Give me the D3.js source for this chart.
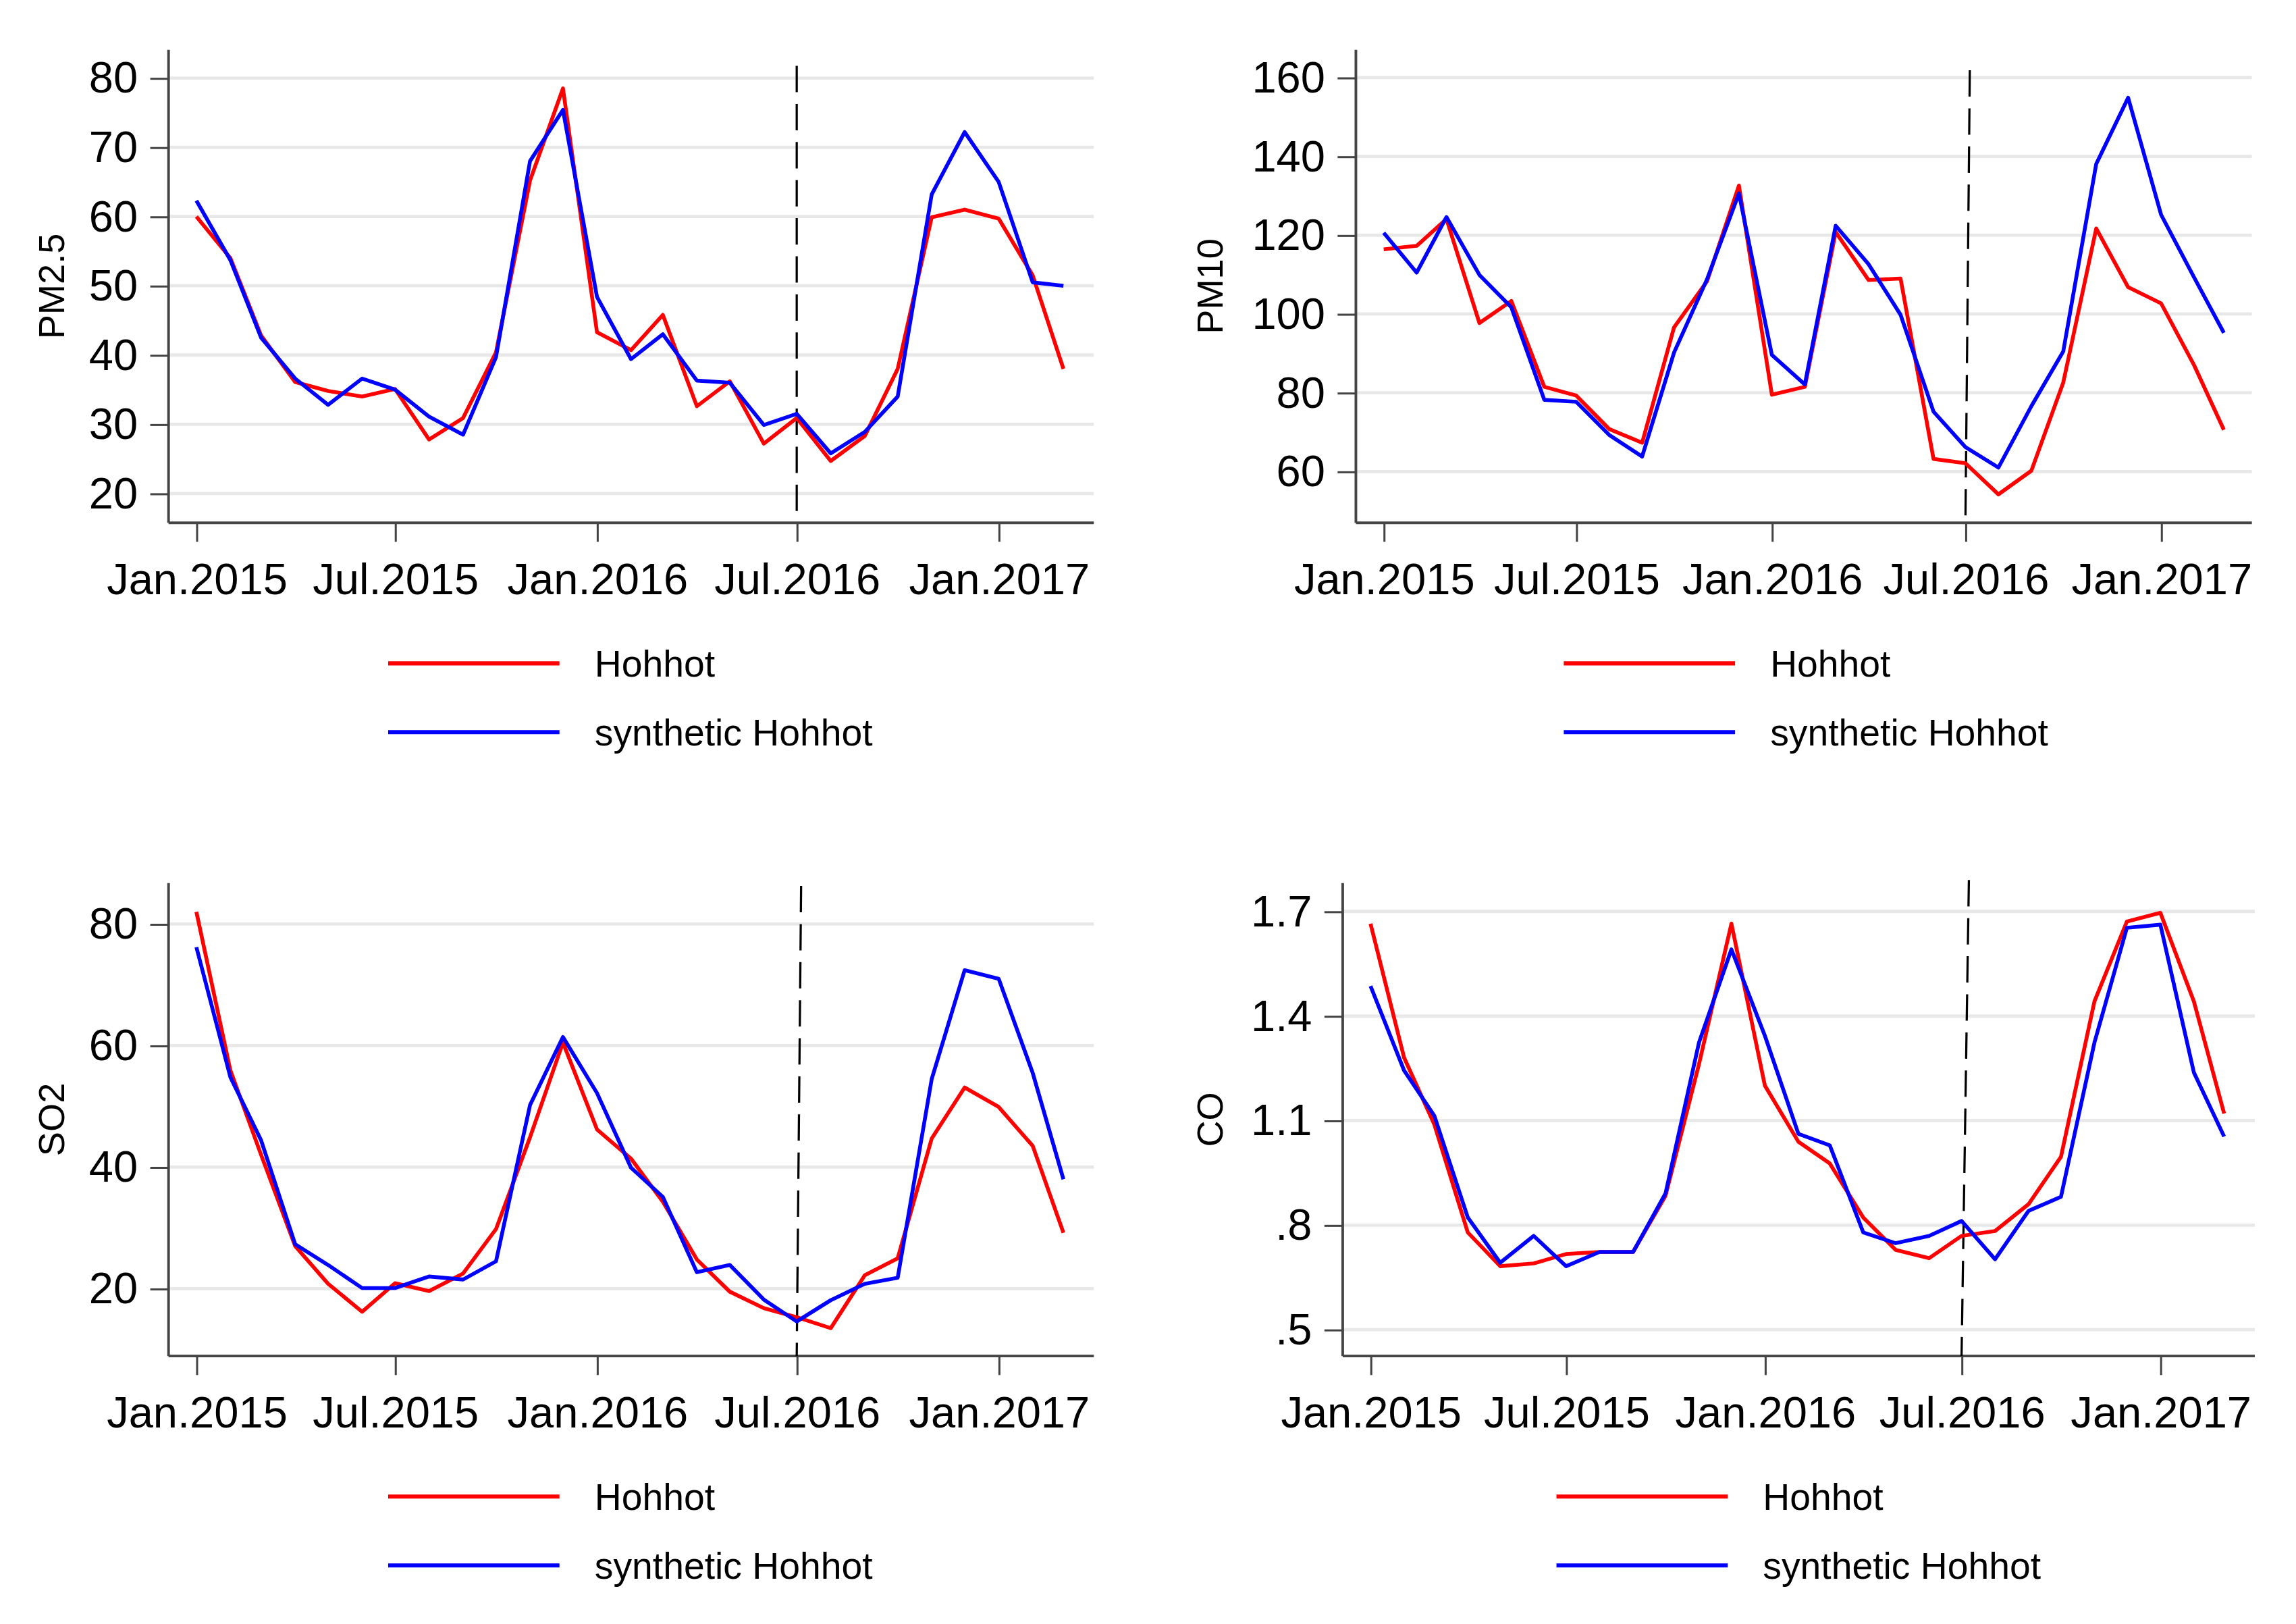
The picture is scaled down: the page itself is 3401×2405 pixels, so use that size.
<!DOCTYPE html>
<html>
<head>
<meta charset="utf-8">
<script src="https://cdn.jsdelivr.net/npm/d3@7"></script>
<style>
  html, body { margin: 0; padding: 0; background: #fff; }
  svg { display: block; }
  text { font-family: "Liberation Sans", Arial, sans-serif; fill: #000; }
</style>
</head>
<body>
<div id="chart"></div>
<script>
// Months Jan.2015 .. Mar.2017
const months = d3.timeMonth.range(new Date(2015, 0, 1), new Date(2017, 3, 1));
const xTickDates = [new Date(2015, 0, 1), new Date(2015, 6, 1), new Date(2016, 0, 1), new Date(2016, 6, 1), new Date(2017, 0, 1)];
const xTickLabels = ["Jan.2015", "Jul.2015", "Jan.2016", "Jul.2016", "Jan.2017"];
const treatDate = new Date(2016, 6, 1);
const seriesNames = ["Hohhot", "synthetic Hohhot"];

const pm25Hohhot = [60, 54, 42.8, 36.1, 34.8, 34.0, 35.1, 27.8, 30.9, 40.4, 65.2, 78.5, 43.3, 40.7, 45.8, 32.6, 36.2, 27.2, 30.9, 24.7, 28.3, 38.0, 59.9, 61.0, 59.7, 51.5, 38.0];
const pm25Synth = [62.3, 53.7, 42.5, 36.6, 32.8, 36.6, 35.0, 31.1, 28.5, 39.7, 68.0, 75.4, 48.4, 39.4, 43.0, 36.3, 36.0, 29.9, 31.5, 25.8, 28.9, 34.0, 63.2, 72.2, 65.0, 50.5, 50.0];
const pm25Ticks = [20, 30, 40, 50, 60, 70, 80];
const pm25TickLabels = ["20", "30", "40", "50", "60", "70", "80"];

const pm10Hohhot = [116.4, 117.3, 124.1, 97.7, 103.3, 81.5, 79.3, 70.8, 67.3, 96.6, 108.3, 132.6, 79.5, 81.5, 120.8, 108.6, 109.0, 63.2, 62.1, 54.2, 60.2, 82.6, 121.7, 106.8, 102.7, 87.0, 70.6];
const pm10Synth = [120.6, 110.5, 124.6, 109.9, 101.7, 78.2, 77.7, 69.3, 63.8, 90.2, 108.8, 130.6, 89.6, 82.1, 122.4, 112.6, 99.8, 75.2, 66.2, 61.0, 76.6, 90.5, 138.1, 154.9, 125.2, 109.3, 95.2];
const pm10Ticks = [60, 80, 100, 120, 140, 160];
const pm10TickLabels = ["60", "80", "100", "120", "140", "160"];

const so2Hohhot = [82.0, 55.9, 42.0, 27.0, 20.8, 16.2, 20.9, 19.6, 22.5, 29.8, 44.9, 60.5, 46.2, 41.4, 34.3, 24.8, 19.5, 16.8, 15.3, 13.5, 22.2, 25.0, 44.7, 53.1, 49.9, 43.5, 29.2];
const so2Synth = [76.2, 54.8, 44.4, 27.3, 23.9, 20.1, 20.1, 22.0, 21.5, 24.5, 50.2, 61.4, 52.2, 39.9, 35.1, 22.7, 23.9, 18.2, 14.6, 18.1, 20.8, 21.8, 54.5, 72.4, 71.0, 55.5, 38.0];
const so2Ticks = [20, 40, 60, 80];
const so2TickLabels = ["20", "40", "60", "80"];

const coHohhot = [1.665, 1.281, 1.089, 0.779, 0.682, 0.690, 0.717, 0.723, 0.723, 0.884, 1.262, 1.665, 1.200, 1.039, 0.977, 0.822, 0.729, 0.705, 0.769, 0.783, 0.860, 0.996, 1.442, 1.671, 1.696, 1.442, 1.120];
const coSynth = [1.486, 1.244, 1.114, 0.822, 0.692, 0.769, 0.682, 0.723, 0.723, 0.891, 1.324, 1.591, 1.343, 1.062, 1.029, 0.779, 0.748, 0.769, 0.812, 0.702, 0.841, 0.881, 1.324, 1.653, 1.662, 1.238, 1.054];
const coTicks = [0.5, 0.8, 1.1, 1.4, 1.7];
const coTickLabels = [".5", ".8", "1.1", "1.4", "1.7"];

// Layout (in a 1568 x 1109 view box, scaled to the window)
const W = 3401, H = 2405, VW = 1568, VH = 1109;
const panels = [
  { title: "PM2.5", red: pm25Hohhot, blue: pm25Synth, ticks: pm25Ticks, labels: pm25TickLabels,
    axisX: 115, right: 747, top: 34, bottom: 357, x0: 134, x1: 682, y0: 337, y1: 53.3, titleX: 35, legX: 265, legY: 453, lean: 0, dashTop: 45 },
  { title: "PM10", red: pm10Hohhot, blue: pm10Synth, ticks: pm10Ticks, labels: pm10TickLabels,
    axisX: 926, right: 1538, top: 34, bottom: 357, x0: 945, x1: 1476, y0: 322, y1: 53, titleX: 826, legX: 1068, legY: 453, lean: 3, dashTop: 48 },
  { title: "SO2", red: so2Hohhot, blue: so2Synth, ticks: so2Ticks, labels: so2TickLabels,
    axisX: 115, right: 747, top: 603, bottom: 926, x0: 134, x1: 682, y0: 880, y1: 631, titleX: 35, legX: 265, legY: 1022, lean: 3, dashTop: 605 },
  { title: "CO", red: coHohhot, blue: coSynth, ticks: coTicks, labels: coTickLabels,
    axisX: 917, right: 1540, top: 603, bottom: 926, x0: 936, x1: 1475.5, y0: 908, y1: 622.4, titleX: 826, legX: 1063, legY: 1022, lean: 5, dashTop: 601 }
];

const svg = d3.select("#chart").append("svg")
  .attr("width", W)
  .attr("height", H)
  .attr("viewBox", "0 0 " + VW + " " + VH);

svg.append("rect").attr("width", VW).attr("height", VH).attr("fill", "#fff");

panels.forEach(p => {
  const g = svg.append("g");
  const x = d3.scaleTime().domain([xTickDates[0], xTickDates[4]]).range([p.x0, p.x1]);
  const y = d3.scaleLinear().domain([p.ticks[0], p.ticks[p.ticks.length - 1]]).range([p.y0, p.y1]);

  // gridlines
  g.selectAll("line.grid").data(p.ticks).enter().append("line")
    .attr("class", "grid")
    .attr("x1", p.axisX).attr("x2", p.right)
    .attr("y1", d => y(d)).attr("y2", d => y(d))
    .attr("stroke", "#e8e8e8").attr("stroke-width", 2.2);

  // y axis
  const yAxis = d3.axisLeft(y).tickValues(p.ticks)
    .tickFormat((d, i) => p.labels[i]).tickSize(12.5).tickPadding(8.5);
  const ya = g.append("g").attr("transform", "translate(" + p.axisX + ",0)").call(yAxis);
  ya.select(".domain").remove();
  ya.selectAll(".tick line").attr("stroke", "#444").attr("stroke-width", 1.4);
  ya.selectAll(".tick text").attr("font-size", 30).attr("fill", "#000")
    .attr("font-family", "'Liberation Sans', Arial, sans-serif");

  // x axis
  const xAxis = d3.axisBottom(x).tickValues(xTickDates)
    .tickFormat((d, i) => xTickLabels[i]).tickSize(13).tickPadding(14.5);
  const xa = g.append("g").attr("transform", "translate(0," + p.bottom + ")").call(xAxis);
  xa.select(".domain").remove();
  xa.selectAll(".tick line").attr("stroke", "#444").attr("stroke-width", 1.4);
  xa.selectAll(".tick text").attr("font-size", 30).attr("fill", "#000")
    .attr("font-family", "'Liberation Sans', Arial, sans-serif");

  // axis lines
  g.append("line").attr("x1", p.axisX).attr("x2", p.axisX).attr("y1", p.top).attr("y2", p.bottom)
    .attr("stroke", "#444").attr("stroke-width", 1.8);
  g.append("line").attr("x1", p.axisX).attr("x2", p.right).attr("y1", p.bottom).attr("y2", p.bottom)
    .attr("stroke", "#444").attr("stroke-width", 1.8);

  // treatment line
  g.append("line")
    .attr("x1", x(treatDate) + p.lean).attr("x2", x(treatDate))
    .attr("y1", p.dashTop).attr("y2", p.bottom)
    .attr("stroke", "#000").attr("stroke-width", 1.5)
    .attr("stroke-dasharray", "18,8");

  // series
  const line = d3.line().x((d, i) => x(months[i])).y(d => y(d));
  g.append("path").datum(p.red).attr("d", line)
    .attr("fill", "none").attr("stroke", "#ff0000").attr("stroke-width", 2.6).attr("stroke-linejoin", "round");
  g.append("path").datum(p.blue).attr("d", line)
    .attr("fill", "none").attr("stroke", "#0000ff").attr("stroke-width", 2.6).attr("stroke-linejoin", "round");

  // y title
  g.append("text")
    .attr("transform", "translate(" + p.titleX + "," + ((p.top + p.bottom) / 2) + ") rotate(-90)")
    .attr("text-anchor", "middle").attr("dy", "0.35em")
    .attr("font-size", 25)
    .text(p.title);

  // legend
  [["#ff0000", 0], ["#0000ff", 1]].forEach(([c, i]) => {
    const ly = p.legY + i * 47;
    g.append("line").attr("x1", p.legX).attr("x2", p.legX + 117).attr("y1", ly).attr("y2", ly)
      .attr("stroke", c).attr("stroke-width", 2.8);
    g.append("text").attr("x", p.legX + 141).attr("y", ly).attr("dy", "0.36em")
      .attr("font-size", 25.5).text(seriesNames[i]);
  });
});
</script>
</body>
</html>
